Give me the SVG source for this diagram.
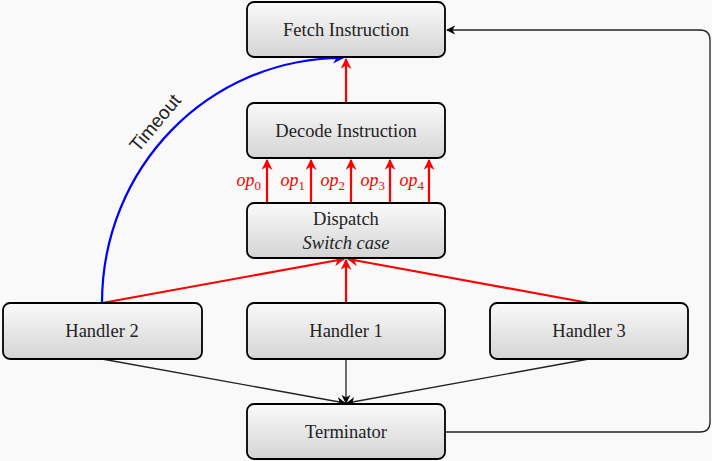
<svg xmlns="http://www.w3.org/2000/svg" width="712" height="461" viewBox="0 0 712 461">
<defs>
<linearGradient id="g" x1="0" y1="0" x2="0" y2="1">
<stop offset="0" stop-color="#fafafa"/>
<stop offset="1" stop-color="#d4d4d4"/>
</linearGradient>
<marker id="ar" viewBox="0 0 10 10" refX="9" refY="5" markerWidth="5" markerHeight="5" orient="auto" markerUnits="strokeWidth">
<path d="M0,0 L10,5 L0,10 L3,5 Z" fill="#ff0000"/>
</marker>
<marker id="ab" viewBox="0 0 10 10" refX="9" refY="5" markerWidth="5" markerHeight="5" orient="auto" markerUnits="strokeWidth">
<path d="M0,0 L10,5 L0,10 L3,5 Z" fill="#0000ff"/>
</marker>
<marker id="ak" viewBox="0 0 10 10" refX="9" refY="5" markerWidth="7" markerHeight="7" orient="auto" markerUnits="strokeWidth">
<path d="M0,0 L10,5 L0,10 L3,5 Z" fill="#000"/>
</marker>
</defs>
<style>
.box{fill:url(#g);stroke:#000;stroke-width:1.8}
.serif{font-family:'Liberation Serif','Times New Roman','DejaVu Serif',serif}
.t{font-size:18.5px;fill:#222;text-anchor:middle}
.red{stroke:#ff0000;stroke-width:2.2;fill:none;marker-end:url(#ar)}
.blk{stroke:#222;stroke-width:1.3;fill:none;marker-end:url(#ak)}
.op{font-style:italic;font-size:18px;fill:#ff0000;text-anchor:end}
.sub{font-size:13px;font-style:normal}
</style>
<rect width="712" height="461" fill="#f9f9f9"/>
<g id="connectors">
<path class="red" d="M346,103 L346,59"/>
<path class="red" d="M267,203 L267,160"/>
<path class="red" d="M311,203 L311,160"/>
<path class="red" d="M351,203 L351,160"/>
<path class="red" d="M390,203 L390,160"/>
<path class="red" d="M429,203 L429,160"/>
<path class="red" d="M102,303 L344,259"/>
<path class="red" d="M346,303 L346,260"/>
<path class="red" d="M589,303 L348,259"/>
<path d="M102,303 C102,168 208,58 343,58" stroke="#0000ff" stroke-width="2.2" fill="none" marker-end="url(#ab)"/>
<text x="160" y="127" transform="rotate(-50 160 127)" font-family="'Liberation Sans', Arial, sans-serif" font-size="19" fill="#222" text-anchor="middle">Timeout</text>
<path class="blk" d="M102,359 L345,403"/>
<path class="blk" d="M346,359 L346,403"/>
<path class="blk" d="M589,359 L347,403"/>
<path class="blk" d="M445,432 L700,432 Q710,432 710,422 L710,40 Q710,30 700,30 L447,30"/>
<g class="serif">
<text class="op" x="261" y="186">op<tspan class="sub" dy="4">0</tspan></text>
<text class="op" x="305" y="186">op<tspan class="sub" dy="4">1</tspan></text>
<text class="op" x="345" y="186">op<tspan class="sub" dy="4">2</tspan></text>
<text class="op" x="385" y="186">op<tspan class="sub" dy="4">3</tspan></text>
<text class="op" x="424" y="186">op<tspan class="sub" dy="4">4</tspan></text>
</g>
</g>
<g class="serif">
<g id="fetch"><rect class="box" x="247" y="2" width="198" height="55" rx="7"/><text class="t" x="346" y="36">Fetch Instruction</text></g>
<g id="decode"><rect class="box" x="247" y="103" width="198" height="55" rx="7"/><text class="t" x="346" y="137">Decode Instruction</text></g>
<g id="dispatch"><rect class="box" x="247" y="203" width="198" height="55" rx="7"/><text class="t" x="346" y="225">Dispatch</text><text class="t" x="346" y="249" font-style="italic">Switch case</text></g>
<g id="handler2"><rect class="box" x="3" y="303" width="199" height="56" rx="7"/><text class="t" x="102" y="337">Handler 2</text></g>
<g id="handler1"><rect class="box" x="247" y="303" width="198" height="56" rx="7"/><text class="t" x="346" y="337">Handler 1</text></g>
<g id="handler3"><rect class="box" x="490" y="303" width="198" height="56" rx="7"/><text class="t" x="589" y="337">Handler 3</text></g>
<g id="terminator"><rect class="box" x="247" y="404" width="198" height="55" rx="7"/><text class="t" x="346" y="438">Terminator</text></g>
</g>
</svg>
